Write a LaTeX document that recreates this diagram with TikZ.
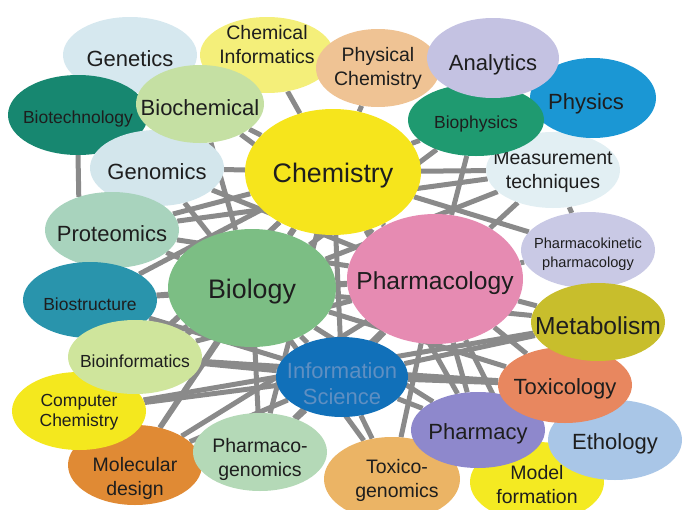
\documentclass[tikz,border=0pt]{standalone}
\usepackage{fontspec}
\setmainfont{Liberation Sans}
\usetikzlibrary{shapes.geometric}
\pgfdeclarelayer{lines}
\pgfsetlayers{lines,main}

\definecolor{linkgrey}{HTML}{8A8A8A}
\definecolor{txtgrey}{HTML}{1E1E1E}
\definecolor{infotxt}{HTML}{5F8FC2}

\begin{document}
\begin{tikzpicture}[x=1pt,y=-1pt,
	blob/.style={ellipse, minimum width=134pt, minimum height=76pt, inner sep=0pt},
	link/.style={draw=linkgrey, line width=5pt},
	every label/.style={align=center, text=txtgrey, yshift=-4pt},
	sm/.style={font=\fontsize{17.5}{20.5}\selectfont},
	md/.style={font=\fontsize{19.5}{24}\selectfont},
	lg/.style={font=\fontsize{22}{26}\selectfont},
	xl/.style={font=\fontsize{24.6}{29}\selectfont},
	xxl/.style={font=\fontsize{26.8}{31}\selectfont}]
	\useasboundingbox (0,0) rectangle (683,509);

	% top left group
	\node (genet) [blob, fill={rgb,255:red,214;green,232;blue,239}, label={[lg]center:Genetics}] at (130,55) {};
	\node (cheminf) [blob, fill={rgb,255:red,244;green,239;blue,122}, label={[md, yshift=14pt]center:Chemical\\Informatics}] at (267,55) {};
	\node (biotech) [blob, minimum width=140pt, minimum height=80pt, fill={rgb,255:red,23;green,135;blue,112}, label={[sm]center:Biotechnology}] at (78,115) {};
	\node (genom) [blob, fill={rgb,255:red,211;green,230;blue,236}, label={[lg]center:Genomics}] at (157,168) {};
	\node (biochem) [blob, minimum width=128pt, minimum height=78pt, fill={rgb,255:red,197;green,224;blue,163}, label={[lg]center:Biochemical}] at (200,104) {};
	\node (prot) [blob, fill={rgb,255:red,168;green,211;blue,189}, label={[lg]center:Proteomics}] at (112,230) {};

	% top right group
	\node (physchem) [blob, minimum width=124pt, minimum height=78pt, fill={rgb,255:red,239;green,195;blue,148}, label={[md, yshift=4pt]center:Physical\\Chemistry}] at (378,68) {};
	\node (meas) [blob, fill={rgb,255:red,226;green,239;blue,243}, label={[md, yshift=2pt]center:Measurement\\techniques}] at (553,170) {};
	\node (phys) [blob, minimum width=126pt, minimum height=80pt, fill={rgb,255:red,27;green,151;blue,212}, label={[lg, xshift=-7pt, yshift=-2pt]center:Physics}] at (593,98) {};
	\node (biophys) [blob, minimum width=136pt, minimum height=72pt, fill={rgb,255:red,31;green,154;blue,112}, label={[sm]center:Biophysics}] at (476,120) {};
	\node (analyt) [blob, minimum width=132pt, minimum height=80pt, fill={rgb,255:red,196;green,194;blue,226}, label={[lg, yshift=-3pt]center:Analytics}] at (493,58) {};
	\node (chem) [blob, minimum width=176pt, minimum height=126pt, fill={rgb,255:red,246;green,229;blue,28}, label={[xxl]center:Chemistry}] at (333,172) {};

	% bottom left group
	\node (biostr) [blob, fill={rgb,255:red,41;green,148;blue,172}, label={[sm]center:Biostructure}] at (90,300) {};
	\node (moldes) [blob, minimum height=80pt, fill={rgb,255:red,224;green,138;blue,52}, label={[md, yshift=-9pt]center:Molecular\\design}] at (135,465) {};
	\node (compchem) [blob, minimum height=78pt, fill={rgb,255:red,244;green,232;blue,30}, label={[sm, yshift=3pt]center:Computer\\Chemistry}] at (79,411) {};
	\node (bioinf) [blob, minimum height=74pt, fill={rgb,255:red,207;green,229;blue,156}, label={[sm]center:Bioinformatics}] at (135,357) {};
	\node (pgen) [blob, minimum height=78pt, fill={rgb,255:red,180;green,217;blue,183}, label={[md, yshift=-3pt]center:Pharmaco-\\genomics}] at (260,452) {};
	\node (biol) [blob, minimum width=168pt, minimum height=118pt, fill={rgb,255:red,124;green,190;blue,132}, label={[xxl]center:Biology}] at (252,288) {};

	% bottom right group
	\node (model) [blob, minimum height=80pt, fill={rgb,255:red,244;green,234;blue,34}, label={[md, yshift=1pt]center:Model\\formation}] at (537,482) {};
	\node (etho) [blob, minimum height=80pt, fill={rgb,255:red,169;green,198;blue,231}, label={[lg]center:Ethology}] at (615,440) {};
	\node (toxgen) [blob, minimum width=136pt, minimum height=84pt, fill={rgb,255:red,235;green,180;blue,101}, label={[md, xshift=5pt, yshift=3pt]center:Toxico-\\genomics}] at (392,479) {};
	\node (pkin) [blob, fill={rgb,255:red,201;green,201;blue,229}, label={[font=\fontsize{14.6}{19}\selectfont]center:Pharmacokinetic\\pharmacology}] at (588,250) {};
	\node (pharmacol) [blob, minimum width=176pt, minimum height=130pt, fill={rgb,255:red,230;green,139;blue,178}, label={[xl]center:Pharmacology}] at (435,279) {};
	\node (infosci) [blob, minimum width=132pt, minimum height=80pt, fill={rgb,255:red,17;green,112;blue,185}, label={[lg, text=infotxt, yshift=-3pt]center:Information\\Science}] at (342,377) {};
	\node (pharmacy) [blob, fill={rgb,255:red,142;green,136;blue,204}, label={[lg]center:Pharmacy}] at (478,430) {};
	\node (toxic) [blob, fill={rgb,255:red,232;green,135;blue,95}, label={[lg]center:Toxicology}] at (565,385) {};
	\node (metab) [blob, minimum height=78pt, fill={rgb,255:red,200;green,190;blue,44}, label={[xl]center:Metabolism}] at (598,322) {};

	% grey links behind the blobs
	\begin{pgfonlayer}{lines}
		\draw[link] (biotech.south) -- (prot.135);
		\foreach \a/\b in {cheminf/chem, physchem/chem, biochem/chem,
			genom/chem, genom/biol, genom/pharmacol, biochem/biol, biochem/pharmacol,
			prot/chem, prot/biol, prot/pharmacol, prot/meas,
			biostr/chem, biostr/biol, biostr/infosci, biostr/pharmacol,
			bioinf/biol, bioinf/chem, bioinf/infosci, bioinf/pharmacol, bioinf/toxic,
			compchem/infosci, compchem/biol, compchem/chem, compchem/metab,
			moldes/biol, moldes/infosci, moldes/chem, moldes/pharmacol,
			pgen/biol, pgen/infosci, pgen/pharmacol, pgen/chem,
			toxgen/infosci, toxgen/pharmacol, toxgen/biol, toxgen/metab,
			pharmacy/infosci, pharmacy/pharmacol, pharmacy/biol, pharmacy/chem,
			toxic/infosci, toxic/pharmacol, toxic/biol,
			metab/pharmacol, metab/infosci, metab/biol,
			pkin/pharmacol, pkin/meas, pkin/chem,
			meas/chem, meas/pharmacol, meas/biol,
			biophys/chem, biophys/pharmacol, biophys/biol,
			chem/pharmacol, chem/biol, chem/infosci,
			biol/pharmacol, biol/infosci, pharmacol/infosci, model/pharmacol}
			\draw[link] (\a) -- (\b);
	\end{pgfonlayer}
\end{tikzpicture}
\end{document}
